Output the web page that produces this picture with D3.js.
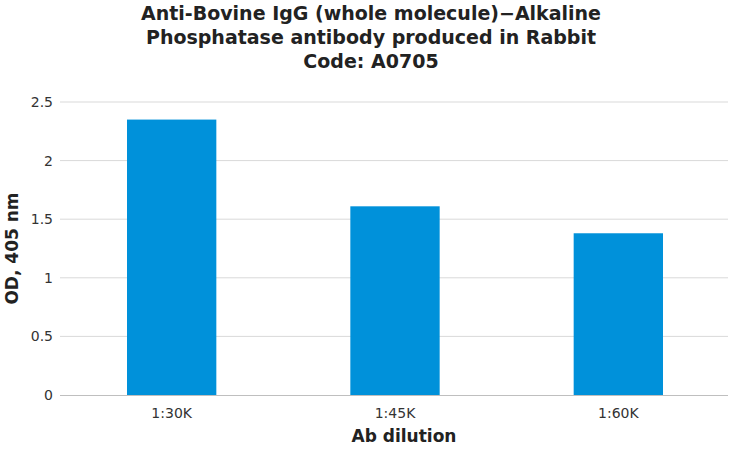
<!DOCTYPE html>
<html>
<head>
<meta charset="utf-8">
<script src="https://cdn.jsdelivr.net/npm/d3@7"></script>
<style>
  body { margin: 0; background: #fff; }
  text { font-family: "DejaVu Sans", Verdana, sans-serif; }
</style>
</head>
<body>
<div class="chart-holder"></div>
<script>
// Chart data
const dilutions = ["1:30K", "1:45K", "1:60K"];
const odValues = [2.35, 1.61, 1.38];
const yTicks = [0, 0.5, 1, 1.5, 2, 2.5];
const titleLines = [
  "Anti-Bovine IgG (whole molecule)\u2212Alkaline",
  "Phosphatase antibody produced in Rabbit",
  "Code: A0705"
];

const width = 730;
const height = 450;
const margin = { top: 102, right: 0, bottom: 55, left: 60 };

const svg = d3.select('.chart-holder').append('svg')
  .attr('width', width)
  .attr('height', height);

const x = d3.scaleBand()
  .domain(dilutions)
  .range([margin.left, width - margin.right])
  .paddingInner(0.6)
  .paddingOuter(0.3);

const y = d3.scaleLinear()
  .domain([0, 2.5])
  .range([height - margin.bottom, margin.top]);

// gridlines
svg.append('g')
  .selectAll('line')
  .data(yTicks.filter(d => d > 0))
  .join('line')
  .attr('x1', margin.left)
  .attr('x2', width - 2)
  .attr('y1', d => y(d))
  .attr('y2', d => y(d))
  .attr('stroke', '#d9d9d9')
  .attr('stroke-width', 1);

// y tick labels
const yAxis = svg.append('g')
  .attr('transform', 'translate(' + margin.left + ',0)')
  .call(d3.axisLeft(y).tickValues(yTicks).tickFormat(d3.format('')).tickSize(0).tickPadding(7));
yAxis.select('.domain').remove();
yAxis.selectAll('text')
  .style('font-size', '14px')
  .attr('fill', '#333');

// bars
svg.append('g')
  .selectAll('rect')
  .data(dilutions)
  .join('rect')
  .attr('x', d => x(d))
  .attr('width', x.bandwidth())
  .attr('y', (d, i) => y(odValues[i]))
  .attr('height', (d, i) => y(0) - y(odValues[i]))
  .attr('fill', '#0091da');

// x axis
const xAxis = svg.append('g')
  .attr('transform', 'translate(0,' + y(0) + ')')
  .call(d3.axisBottom(x).tickSize(0).tickPadding(13));
xAxis.select('.domain')
  .attr('d', 'M' + margin.left + ',0.5H' + (width - 2))
  .attr('stroke', '#bfbfbf');
xAxis.selectAll('text')
  .style('font-size', '14px')
  .attr('fill', '#333');

// title
svg.append('text')
  .attr('text-anchor', 'middle')
  .style('font-size', '19px')
  .style('font-weight', 'bold')
  .attr('fill', '#222')
  .selectAll('tspan')
  .data(titleLines)
  .join('tspan')
  .attr('x', 371)
  .attr('y', (d, i) => 20 + i * 24)
  .text(d => d);

// axis titles
svg.append('text')
  .attr('x', 404)
  .attr('y', 442)
  .attr('text-anchor', 'middle')
  .style('font-size', '17px')
  .style('font-weight', 'bold')
  .attr('fill', '#222')
  .text('Ab dilution');

svg.append('text')
  .attr('transform', 'translate(18,' + ((margin.top + height - margin.bottom) / 2) + ') rotate(-90)')
  .attr('text-anchor', 'middle')
  .style('font-size', '17px')
  .style('font-weight', 'bold')
  .attr('fill', '#222')
  .text('OD, 405 nm');
</script>
</body>
</html>
